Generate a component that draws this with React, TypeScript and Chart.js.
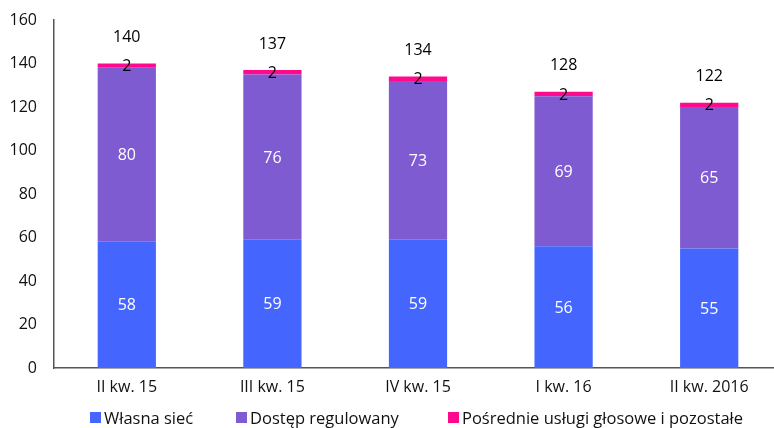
import React, { useEffect, useRef } from "react";
import { Chart, registerables } from "chart.js";

Chart.register(...registerables);

const categories = ["II kw. 15", "III kw. 15", "IV kw. 15", "I kw. 16", "II kw. 2016"];
const ownNetwork = [58, 59, 59, 56, 55];
const regulatedAccess = [80, 76, 73, 69, 65];
const indirectVoice = [2, 2, 2, 2, 2];
const totals = [140, 137, 134, 128, 122];
const yTicks = [0, 20, 40, 60, 80, 100, 120, 140, 160];

const seriesNames = ["Własna sieć", "Dostęp regulowany", "Pośrednie usługi głosowe i pozostałe"];
const seriesColors = ["#4466FF", "#7E5BD0", "#FF0A8C"];
const labelColors = ["#FFFFFF", "#FFFFFF", "#000000"];

const FONT = "'Open Sans', 'Noto Sans', sans-serif";

// Segment values in the middle of each stacked piece, totals above each column
const valueLabels = {
  id: "valueLabels",
  afterDatasetsDraw(chart: any) {
    const ctx = chart.ctx;
    ctx.save();
    ctx.font = `16px ${FONT}`;
    ctx.textAlign = "center";
    ctx.textBaseline = "middle";
    chart.data.datasets.forEach((ds: any, di: number) => {
      const meta = chart.getDatasetMeta(di);
      meta.data.forEach((el: any, i: number) => {
        const p = el.getProps(["x", "y", "base"], true);
        ctx.fillStyle = labelColors[di];
        ctx.fillText(String(ds.data[i]), p.x, (p.y + p.base) / 2 + 1);
      });
    });
    const last = chart.getDatasetMeta(chart.data.datasets.length - 1);
    last.data.forEach((el: any, i: number) => {
      const p = el.getProps(["x", "y"], true);
      ctx.fillStyle = "#000000";
      ctx.fillText(String(totals[i]), p.x, p.y - 26);
    });
    ctx.restore();
  },
};

function BarChart() {
  const ref = useRef<HTMLCanvasElement | null>(null);
  useEffect(() => {
    if (!ref.current) return;
    const datasets = [ownNetwork, regulatedAccess, indirectVoice].map((data, i) => ({
      label: seriesNames[i],
      data,
      backgroundColor: seriesColors[i],
      borderWidth: 0,
      categoryPercentage: 1,
      barPercentage: 0.4,
    }));
    const chart = new Chart(ref.current, {
      type: "bar",
      data: { labels: categories, datasets },
      options: {
        responsive: false,
        animation: false,
        devicePixelRatio: 1,
        layout: { padding: { top: 20, right: 0, left: 0, bottom: 0 } },
        plugins: { legend: { display: false }, tooltip: { enabled: false } },
        scales: {
          x: {
            stacked: true,
            grid: { display: false, drawTicks: false },
            border: { display: true, color: "#555555", width: 1.5 },
            ticks: { color: "#111111", font: { family: FONT, size: 16 }, padding: 10 },
            afterFit: (s: any) => {
              s.height = 60;
            },
          },
          y: {
            stacked: true,
            min: 0,
            max: 160,
            afterBuildTicks: (s: any) => {
              s.ticks = yTicks.map((v) => ({ value: v }));
            },
            grid: { display: false, drawTicks: false },
            border: { display: true, color: "#555555", width: 1.5 },
            ticks: { color: "#111111", font: { family: FONT, size: 16 }, padding: 17 },
            afterFit: (s: any) => {
              s.width = 54;
              s.paddingTop = 0;
              s.paddingBottom = 0;
            },
          },
        },
      },
      plugins: [valueLabels],
    });
    return () => chart.destroy();
  }, []);
  return <canvas ref={ref} width={782} height={428} style={{ display: "block" }} />;
}

const legendLeft = [90, 236, 448];

export default function App() {
  return (
    <div
      style={{
        position: "fixed",
        left: 0,
        top: 0,
        width: 774,
        height: 428,
        overflow: "hidden",
        background: "#ffffff",
      }}
    >
      <BarChart />
      {seriesNames.map((name, i) => (
        <div
          key={name}
          style={{
            position: "absolute",
            left: legendLeft[i],
            top: 406,
            height: 22,
            display: "flex",
            alignItems: "center",
            fontFamily: FONT,
            fontSize: 16.5,
            color: "#111111",
            whiteSpace: "nowrap",
          }}
        >
          <span
            style={{
              display: "inline-block",
              width: 11,
              height: 11,
              background: seriesColors[i],
              marginRight: 3,
            }}
          />
          {name}
        </div>
      ))}
    </div>
  );
}
